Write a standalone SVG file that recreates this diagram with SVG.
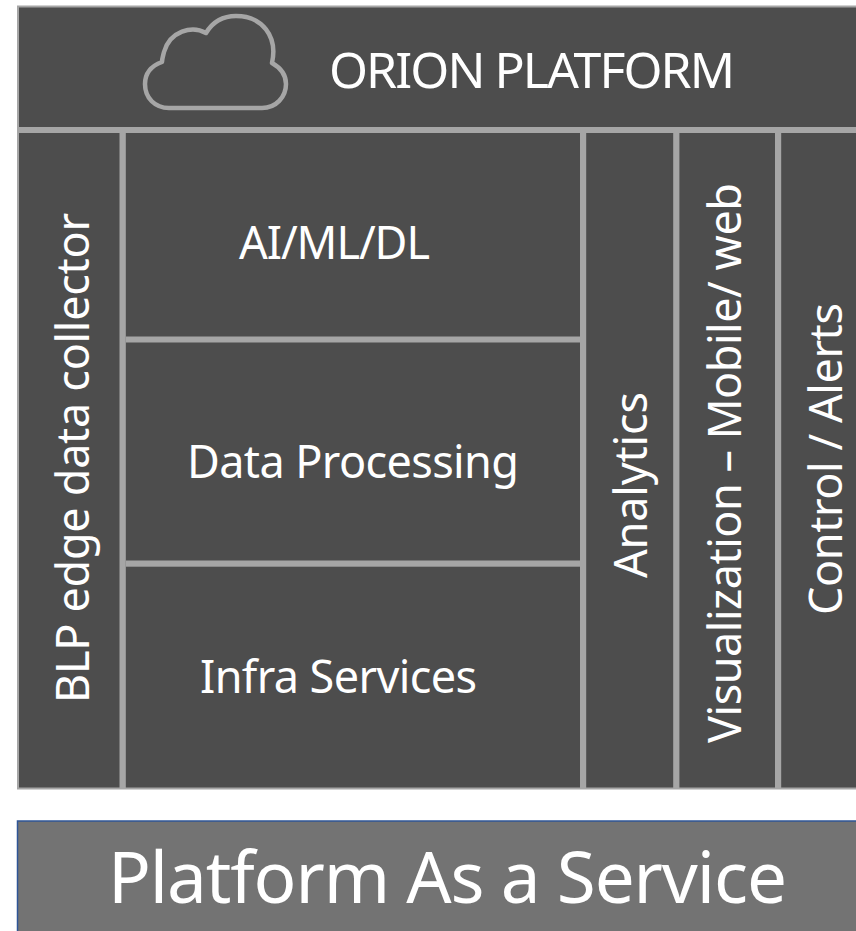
<svg xmlns="http://www.w3.org/2000/svg" width="856" height="931" viewBox="0 0 856 931">
<style>
.t{font-family:"Noto Sans","Open Sans",sans-serif;fill:#fff;text-anchor:middle;font-size:45px}
.l{fill:#a6a6a6}
</style>
<rect width="856" height="931" fill="#fff"/>
<g id="orion-platform">
<rect x="18" y="6.500" width="840" height="782" fill="#4d4d4d" stroke="#a6a6a6" stroke-width="2"/>
<path id="cloud" d="M169 108H262C276 108 286 97 286 84C286 75 281 68 272 63C278 36 262 16 236 16C222 16 212 23 206 33C192 25 170 31 164 52C163 56 162 59 162 62C151 66 145 74 145 84C145 98 155 108 169 108Z" fill="none" stroke="#a6a6a6" stroke-width="4.500" stroke-linejoin="round"/>
<text class="t" x="532" y="88" style="font-size:50px" textLength="406">ORION PLATFORM</text>
</g>
<g id="connectors">
<rect class="l" x="17" y="127" width="839" height="6"/>
<rect class="l" x="119.500" y="133" width="6.300" height="656"/>
<rect class="l" x="580" y="133" width="6.200" height="656"/>
<rect class="l" x="673.200" y="133" width="6.200" height="656"/>
<rect class="l" x="775" y="133" width="6.200" height="656"/>
<rect class="l" x="125.800" y="336.500" width="454.200" height="6"/>
<rect class="l" x="125.800" y="560.500" width="454.200" height="6.200"/>
</g>
<g id="blp"><text class="t" transform="translate(88.700 458) rotate(-90)" textLength="490">BLP edge data collector</text></g>
<g id="ai"><text class="t" x="334.500" y="258.500" textLength="191">AI/ML/DL</text></g>
<g id="data"><text class="t" x="353" y="477.500" textLength="332">Data Processing</text></g>
<g id="infra"><text class="t" x="338.500" y="692.700" textLength="277">Infra Services</text></g>
<g id="analytics"><text class="t" transform="translate(647 485) rotate(-90)" textLength="186">Analytics</text></g>
<g id="visualization"><text class="t" transform="translate(740.700 463) rotate(-90)" textLength="560">Visualization – Mobile/ web</text></g>
<g id="control"><text class="t" transform="translate(841.700 459) rotate(-90)" textLength="312">Control / Alerts</text></g>
<g id="paas">
<rect x="17.500" y="821" width="840" height="112" fill="#737373" stroke="#2f5597" stroke-width="1.500"/>
<text class="t" x="447.500" y="902.700" style="font-size:71px" textLength="679">Platform As a Service</text>
</g>
</svg>
